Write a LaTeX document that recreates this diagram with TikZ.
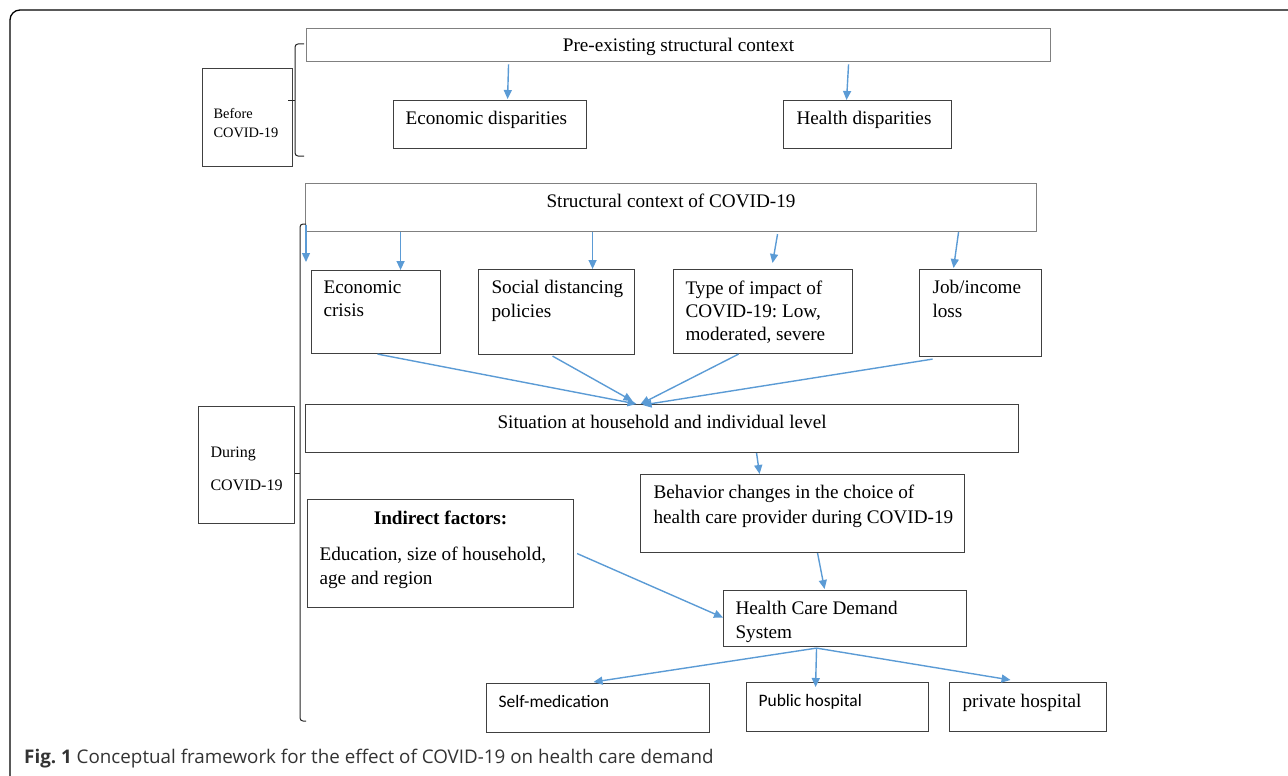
\documentclass[tikz,border=0pt]{standalone}
\usepackage{fontspec}
\setmainfont{Liberation Serif}
\newfontfamily\calibrifont{Carlito}
\newfontfamily\captionfont{Open Sans}
\usetikzlibrary{arrows.meta}
\frenchspacing
\definecolor{arrowblue}{HTML}{5B9BD5}
\definecolor{edgegray}{HTML}{404040}
\definecolor{paleedge}{HTML}{808080}
\tikzset{
  box/.style={draw=edgegray, line width=1.1pt, anchor=north west, inner xsep=0pt,
    font=\fontsize{19.2}{23.4}\selectfont},
  palebox/.style={box, draw=paleedge},
  sansbox/.style={box, font=\calibrifont\fontsize{17.5}{21}\selectfont},
  flow/.style={draw=arrowblue, line width=1.4pt, -{Triangle[length=9pt,width=8pt]}},
  brace/.style={draw=black!85, line width=1pt, rounded corners=3pt},
}
\begin{document}
\begin{tikzpicture}[x=1pt,y=-1pt]
\useasboundingbox (0,0) rectangle (1288,776);
% frame
\draw[line width=1.3pt, rounded corners=10pt] (10,800) -- (10,10) -- (1300,10);

% before COVID-19
\node[palebox, inner ysep=10pt] (pre) at (306,28) {\parbox[t][10pt][t]{744pt}{\centering Pre-existing structural context}};
\node[box, inner ysep=11pt] (ecodisp) at (393,100) {\parbox[t][26pt][t]{193pt}{\leftskip=12pt Economic disparities}};
\node[box, inner ysep=11pt] (healthdisp) at (783,100) {\parbox[t][26pt][t]{168pt}{\leftskip=13pt Health disparities}};
\node[box, inner ysep=40pt, font=\fontsize{14.4}{18.4}\selectfont] (before) at (202,68) {\parbox[t][18pt][t]{90pt}{\leftskip=11pt Before\\COVID-19}};
\draw[brace] (304,44) -- (295,44) -- (295,156) -- (304,156);
\draw[brace] (288,100) -- (295,100);

% during COVID-19
\node[palebox, inner ysep=10.5pt] (struct) at (305,183) {\parbox[t][27pt][t]{731pt}{\centering Structural context of COVID-19}};
\node[box, inner ysep=40.4pt, font=\fontsize{16}{33.4}\selectfont] (during) at (198,406) {\parbox[t][36.2pt][t]{96pt}{\leftskip=12pt During\\COVID-19}};
\draw[brace] (306,224) -- (300,224) -- (300,721) -- (306,721);
\draw[brace] (295,473) -- (300,473);

\node[box, inner ysep=10pt] (ecocrisis) at (311,270) {\parbox[t][63pt][t]{129pt}{\leftskip=12pt Economic\\crisis}};
\node[box, inner ysep=11pt] (social) at (478,269) {\parbox[t][63pt][t]{156pt}{\leftskip=13pt Social distancing\\policies}};
\node[box, inner ysep=11pt] (impact) at (673,269) {\parbox[t][62pt][t]{179pt}{\leftskip=12pt Type of impact of\\COVID-19: Low,\\moderated, severe}};
\node[box, inner ysep=11pt] (job) at (919,269) {\parbox[t][65pt][t]{122pt}{\leftskip=13pt Job/income\\loss}};

\node[box, inner ysep=11pt] (situation) at (305,404) {\parbox[t][26pt][t]{713pt}{\centering Situation at household and individual level}};
\node[box, inner ysep=10pt, font=\fontsize{19.2}{25}\selectfont] (behavior) at (640,474) {\parbox[t][58pt][t]{324pt}{\leftskip=13pt Behavior changes in the choice of\\health care provider during COVID-19}};
\node[box, inner ysep=11pt] (indirect) at (307,499) {\parbox[t][86pt][t]{266pt}{{\centering\bfseries Indirect factors:\par}\vspace{13.3pt}\leftskip=12pt Education, size of household,\\age and region}};
\node[box, inner ysep=11pt] (demand) at (723,590) {\parbox[t][34pt][t]{243pt}{\leftskip=12pt Health Care Demand\\System}};

\node[sansbox, inner ysep=11.5pt] (selfmed) at (486,683) {\parbox[t][26pt][t]{223pt}{\leftskip=12pt Self-medication}};
\node[sansbox, inner ysep=11.5pt] (public) at (746,682) {\parbox[t][26pt][t]{182pt}{\leftskip=12pt Public hospital}};
\node[box, inner ysep=11.5pt] (private) at (949,682) {\parbox[t][26pt][t]{157pt}{\leftskip=13pt private hospital}};

% arrows
\draw[flow] ([xshift=18.5pt,yshift=-2pt]pre.south -| ecodisp.north) -- ([xshift=17.5pt,yshift=1pt]ecodisp.north);
\draw[flow] ([xshift=-19pt,yshift=-2pt]pre.south -| healthdisp.north) -- ([xshift=-21pt]healthdisp.north);

\coordinate (stub) at (306,262);
\draw[flow] ([xshift=1pt,yshift=7pt]struct.south west) -- (stub);
\draw[flow] ([xshift=24.5pt]ecocrisis.north |- struct.south) -- ([xshift=24.5pt]ecocrisis.north);
\draw[flow] ([xshift=36pt]social.north |- struct.south) -- ([xshift=36pt]social.north);
\draw[flow] ([xshift=14.5pt,yshift=-2pt]impact.north |- struct.south) -- ([xshift=9.5pt,yshift=6pt]impact.north);
\draw[flow] ([xshift=-22pt]job.north |- struct.south) -- ([xshift=-27pt,yshift=1pt]job.north);

\draw[flow] ([xshift=1.5pt]ecocrisis.south) -- ([xshift=-25.5pt]situation.north);
\draw[flow] ([xshift=-4pt,yshift=-1pt]social.south) -- ([xshift=-29.5pt,yshift=3pt]situation.north);
\draw[flow] ([xshift=-24.5pt]impact.south) -- ([xshift=-21.5pt]situation.north);
\draw[flow] ([xshift=-48pt,yshift=-2pt]job.south) -- ([xshift=-19.5pt,yshift=-1pt]situation.north);

\draw[flow] ([xshift=-46pt]behavior.north |- situation.south) -- ([xshift=-43pt]behavior.north);
\draw[flow] ([xshift=15pt]behavior.south) -- ([xshift=-20.5pt,yshift=1pt]demand.north);
\draw[flow] ([xshift=3pt]indirect.east) -- ([yshift=1pt]demand.west);

\draw[flow] ([xshift=-28.5pt,yshift=-1pt]demand.south) -- ([xshift=-4.5pt,yshift=1pt]selfmed.north);
\draw[flow] ([xshift=-28.5pt,yshift=-1pt]demand.south) -- ([xshift=-22pt,yshift=-5pt]public.north);
\draw[flow] ([xshift=-28.5pt,yshift=-1pt]demand.south) -- ([xshift=-17.5pt,yshift=2pt]private.north);

\node[anchor=base west, inner sep=0pt, text=black!80, font=\captionfont\fontsize{18.8}{23}\selectfont] (caption) at (24,763) {\textbf{Fig. 1} Conceptual framework for the effect of COVID-19 on health care demand};
\end{tikzpicture}
\end{document}
